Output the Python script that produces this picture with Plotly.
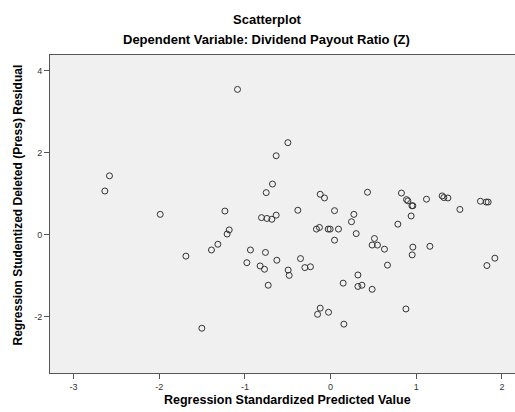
import plotly.graph_objects as go

pred = [-1.086, -0.635, -2.58, -2.634, -0.678, -0.751, -1.988, -1.233,
        -0.806, -0.743, -0.685, -0.635, -1.183, -1.207, -1.315, -1.39,
        -1.688, -0.935, -0.76, -1.502, -0.977, -0.822, -0.771, -0.728,
        -0.627, -0.498, -0.121, -0.071, -0.382, 0.046, 0.431, 0.272,
        0.244, 0.827, 0.886, 0.902, 0.949, 0.960, 1.119, 1.302, 1.322,
        1.369, 1.509, 1.749, 1.816, 1.839, 0.940, 0.785, -0.165, -0.130,
        -0.028, -0.005, 0.092, 0.046, 0.299, 0.512, 0.485, 0.547, 0.629,
        0.960, 1.159, -0.351, -0.495, -0.483, -0.30, -0.235, 0.664, 0.952,
        0.319, 0.147, 0.319, 0.366, 0.485, 1.824, 1.917, 0.879, -0.121,
        -0.152, -0.024, 0.155]
resid = [3.55, 1.93, 1.44, 1.07, 1.24, 1.03, 0.50, 0.58,
         0.42, 0.40, 0.38, 0.48, 0.12, 0.02, -0.23, -0.37,
         -0.52, -0.37, -0.43, -2.28, -0.68, -0.76, -0.84, -1.23,
         -0.62, 2.25, 0.99, 0.90, 0.60, 0.59, 1.04, 0.50,
         0.32, 1.02, 0.86, 0.83, 0.71, 0.71, 0.87, 0.95, 0.91,
         0.90, 0.62, 0.82, 0.80, 0.80, 0.46, 0.26, 0.14, 0.18,
         0.14, 0.14, 0.14, -0.13, 0.03, -0.09, -0.25, -0.25, -0.35,
         -0.30, -0.28, -0.58, -0.86, -0.99, -0.80, -0.78, -0.74, -0.49,
         -0.98, -1.18, -1.26, -1.23, -1.33, -0.75, -0.57, -1.81, -1.79,
         -1.94, -1.89, -2.18]

x_ticks = [-3, -2, -1, 0, 1, 2]
y_ticks = [-2, 0, 2, 4]

W, H = 515, 412
ML, MR, MT, MB = 50, 0, 55, 39
PW, PH = W - ML - MR, H - MT - MB

def px_x(p):
    return (p - ML) / PW

def px_y(p):
    return (H - MB - p) / PH

fig = go.Figure()
fig.add_trace(go.Scatter(
    x=pred, y=resid, mode="markers",
    marker=dict(symbol="circle-open", size=6, color="#333333",
                line=dict(width=1, color="#333333")),
    showlegend=False, hoverinfo="x+y"))

font_main = "Liberation Sans, Arial, sans-serif"

fig.update_layout(
    width=W, height=H,
    margin=dict(l=ML, r=MR, t=MT, b=MB),
    paper_bgcolor="white", plot_bgcolor="#f0f0f0",
    font=dict(family=font_main, color="#000000"),
)
fig.add_annotation(text="<b>Scatterplot</b>", xref="paper", yref="paper",
                   x=px_x(267), y=px_y(19), xanchor="center", yanchor="middle",
                   showarrow=False, font=dict(size=13, family=font_main))
fig.add_annotation(text="<b>Dependent Variable: Dividend Payout Ratio (Z)</b>",
                   xref="paper", yref="paper",
                   x=px_x(266), y=px_y(39), xanchor="center", yanchor="middle",
                   showarrow=False, font=dict(size=13, family=font_main))
fig.add_annotation(text="<b>Regression Standardized Predicted Value</b>",
                   xref="paper", yref="paper",
                   x=px_x(287.5), y=px_y(400), xanchor="center", yanchor="middle",
                   showarrow=False, font=dict(size=12.5, family=font_main))
fig.add_annotation(text="<b>Regression Studentized Deleted (Press) Residual</b>",
                   xref="paper", yref="paper", textangle=-90,
                   x=px_x(18), y=px_y(205.5), xanchor="center", yanchor="middle",
                   showarrow=False, font=dict(size=12, family=font_main))

fig.update_xaxes(
    range=[-3.274, 2.152], tickvals=x_ticks, ticktext=[str(v) for v in x_ticks],
    ticks="outside", ticklen=5, tickcolor="#555555", tickwidth=1,
    tickfont=dict(size=9, color="#333333"),
    showgrid=False, zeroline=False,
    showline=True, linecolor="#555555", linewidth=1, mirror=True,
)
fig.update_yaxes(
    range=[-3.373, 4.39], tickvals=y_ticks, ticktext=[str(v) for v in y_ticks],
    ticks="outside", ticklen=5, tickcolor="#555555", tickwidth=1,
    tickfont=dict(size=9, color="#333333"),
    showgrid=False, zeroline=False,
    showline=True, linecolor="#555555", linewidth=1, mirror=True,
)

fig.write_html("out.html", config={"displayModeBar": False},
               post_script="document.body.style.margin='0';")
